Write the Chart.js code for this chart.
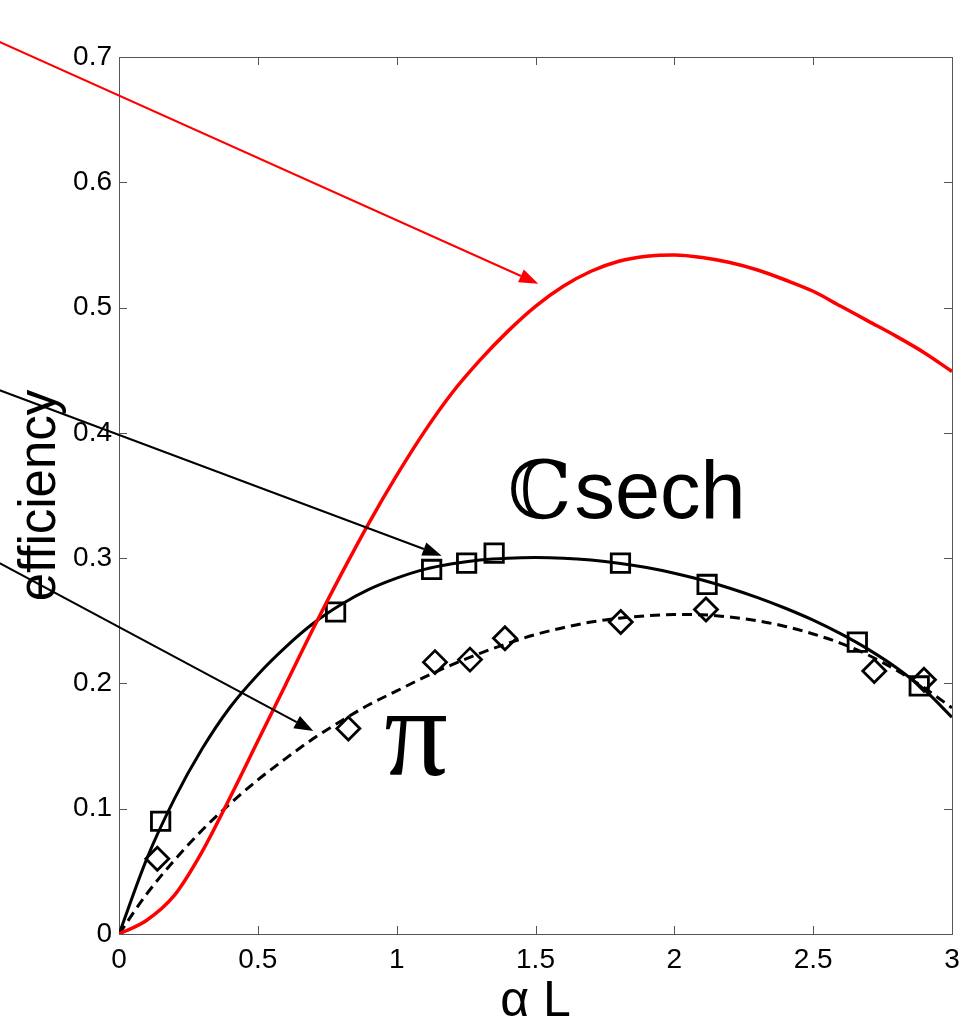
<!DOCTYPE html>
<html>
<head>
<meta charset="utf-8">
<script src="https://cdn.jsdelivr.net/npm/chart.js@4.4.1/dist/chart.umd.min.js"></script>
<style>
  html, body { margin: 0; padding: 0; background: #fff; overflow: hidden; }
  #wrap { width: 963px; height: 1020px; position: relative; }
</style>
</head>
<body>
<div id="wrap"><canvas id="chart"></canvas></div>
<script>
// ===== DATA =====
const xGrid   = [0, 0.1, 0.2, 0.3, 0.4, 0.5, 0.6, 0.7, 0.8, 0.9, 1.0, 1.1, 1.2, 1.3, 1.4, 1.5,
                 1.6, 1.7, 1.8, 1.9, 2.0, 2.1, 2.2, 2.3, 2.4, 2.5, 2.6, 2.7, 2.8, 2.9, 3.0];
const redEff  = [0, 0.011, 0.031, 0.066, 0.109, 0.154, 0.199, 0.244, 0.287, 0.328, 0.366, 0.401, 0.432, 0.458, 0.481, 0.501,
                 0.517, 0.529, 0.537, 0.541, 0.542, 0.540, 0.536, 0.530, 0.522, 0.513, 0.501, 0.489, 0.477, 0.464, 0.449];
const sechEff = [0, 0.060, 0.108, 0.148, 0.181, 0.207, 0.229, 0.248, 0.263, 0.275, 0.284, 0.291, 0.2955, 0.2985, 0.300, 0.3005,
                 0.300, 0.2985, 0.296, 0.2925, 0.288, 0.2825, 0.276, 0.2685, 0.260, 0.2505, 0.2395, 0.227, 0.2125, 0.195, 0.173];
const piEff   = [0, 0.032, 0.059, 0.083, 0.104, 0.123, 0.140, 0.156, 0.170, 0.183, 0.194, 0.205, 0.215, 0.224, 0.232, 0.239,
                 0.2445, 0.249, 0.252, 0.254, 0.255, 0.2548, 0.253, 0.250, 0.2455, 0.2395, 0.232, 0.2225, 0.2105, 0.1965, 0.1805];

// measured points
const sechPtsX = [0.15, 0.78, 1.126, 1.252, 1.351, 1.806, 2.118, 2.659, 2.882];
const sechPtsY = [0.090, 0.257, 0.291, 0.296, 0.304, 0.296, 0.279, 0.233, 0.198];
const piPtsX   = [0.138, 0.826, 1.138, 1.264, 1.39, 1.807, 2.114, 2.72, 2.899];
const piPtsY   = [0.060, 0.164, 0.217, 0.219, 0.236, 0.249, 0.259, 0.210, 0.203];

const xTickLabels = ['0', '0.5', '1', '1.5', '2', '2.5', '3'];
const yTickLabels = ['0', '0.1', '0.2', '0.3', '0.4', '0.5', '0.6', '0.7'];

// annotations (data units)
const arrows = [
  { from: [-0.43, 0.712], to: [1.510, 0.519], color: '#ff0000' },
  { from: [-0.43, 0.434], to: [1.162, 0.302], color: '#000' },
  { from: [-0.43, 0.296], to: [0.700, 0.162], color: '#000' }
];

const pairs = (xs, ys) => xs.map((x, i) => ({ x, y: ys[i] }));

// ===== PLUGINS =====
const framePlugin = {
  id: 'frame',
  beforeDatasetsDraw(chart) {
    const { ctx, chartArea: a, scales: { x, y } } = chart;
    ctx.save();
    ctx.strokeStyle = '#555';
    ctx.lineWidth = 1;
    ctx.strokeRect(Math.round(a.left) + 0.5, Math.round(a.top) + 0.5,
                   Math.round(a.right - a.left), Math.round(a.bottom - a.top));
    const tl = 8;
    ctx.beginPath();
    x.ticks.forEach(t => {
      const px = Math.round(x.getPixelForValue(t.value)) + 0.5;
      ctx.moveTo(px, a.bottom); ctx.lineTo(px, a.bottom - tl);
      ctx.moveTo(px, a.top); ctx.lineTo(px, a.top + tl);
    });
    y.ticks.forEach(t => {
      const py = Math.round(y.getPixelForValue(t.value)) + 0.5;
      ctx.moveTo(a.left, py); ctx.lineTo(a.left + tl, py);
      ctx.moveTo(a.right, py); ctx.lineTo(a.right - tl, py);
    });
    ctx.stroke();
    // x tick labels
    ctx.fillStyle = '#000';
    ctx.font = '28px "Liberation Sans"';
    ctx.textAlign = 'center';
    ctx.textBaseline = 'alphabetic';
    x.ticks.forEach(t => {
      ctx.fillText(xTickLabels[Math.round(t.value * 2)], x.getPixelForValue(t.value), a.bottom + 33.5);
    });
    ctx.restore();
  },
  afterDatasetsDraw(chart) {
    const { ctx, scales: { x, y } } = chart;
    ctx.save();
    // arrows
    arrows.forEach(a => {
      const x0 = x.getPixelForValue(a.from[0]), y0 = y.getPixelForValue(a.from[1]);
      const x1 = x.getPixelForValue(a.to[0]),   y1 = y.getPixelForValue(a.to[1]);
      const ang = Math.atan2(y1 - y0, x1 - x0);
      const hl = 19, hw = 7;
      const bx = x1 - hl * Math.cos(ang), by = y1 - hl * Math.sin(ang);
      ctx.strokeStyle = a.color;
      ctx.fillStyle = a.color;
      ctx.lineWidth = 2;
      ctx.beginPath();
      ctx.moveTo(x0, y0); ctx.lineTo(bx, by);
      ctx.stroke();
      ctx.beginPath();
      ctx.moveTo(x1, y1);
      ctx.lineTo(bx + hw * Math.sin(ang), by - hw * Math.cos(ang));
      ctx.lineTo(bx - hw * Math.sin(ang), by + hw * Math.cos(ang));
      ctx.closePath();
      ctx.fill();
    });
    // labels
    ctx.fillStyle = '#000';
    ctx.textBaseline = 'alphabetic';
    ctx.textAlign = 'left';
    const lx = x.getPixelForValue(1.400), ly = y.getPixelForValue(0.332);
    ctx.font = '80px "DejaVu Serif"';
    ctx.fillText('\u2102', lx, ly);
    const w = ctx.measureText('\u2102').width;
    ctx.font = '81px "Liberation Sans"';
    ctx.fillText('sech', lx + w + 3, ly);
    ctx.font = '126px "Liberation Serif"';
    ctx.fillText('\u03c0', x.getPixelForValue(0.955), y.getPixelForValue(0.127));
    ctx.restore();
  }
};

// ===== CHART =====
const ctx = document.getElementById('chart').getContext('2d');
new Chart(ctx, {
  type: 'scatter',
  data: {
    datasets: [
      {
        label: 'red', data: pairs(xGrid, redEff), showLine: true,
        borderColor: '#ff0000', borderWidth: 3.5, pointRadius: 0, cubicInterpolationMode: 'monotone'
      },
      {
        label: 'sech', data: pairs(xGrid, sechEff), showLine: true,
        borderColor: '#000', borderWidth: 3, pointRadius: 0, cubicInterpolationMode: 'monotone'
      },
      {
        label: 'pi', data: pairs(xGrid, piEff), showLine: true,
        borderColor: '#000', borderWidth: 3, borderDash: [10, 6], pointRadius: 0, cubicInterpolationMode: 'monotone'
      },
      {
        label: 'sech pts', data: pairs(sechPtsX, sechPtsY), showLine: false,
        pointStyle: 'rect', pointRadius: 13, borderColor: '#000', borderWidth: 2.8,
        backgroundColor: 'rgba(0,0,0,0)'
      },
      {
        label: 'pi pts', data: pairs(piPtsX, piPtsY), showLine: false,
        pointStyle: 'rectRot', pointRadius: 11.5, borderColor: '#000', borderWidth: 2.8,
        backgroundColor: 'rgba(0,0,0,0)'
      }
    ]
  },
  options: {
    responsive: true,
    maintainAspectRatio: false,
    animation: false,
    layout: { autoPadding: false, padding: { top: 57, right: 11, left: 0, bottom: 0 } },
    plugins: { legend: { display: false }, tooltip: { enabled: false } },
    scales: {
      x: {
        type: 'linear', min: 0, max: 3,
        grid: { display: false, drawTicks: false },
        border: { display: false },
        ticks: { stepSize: 0.5, display: false },
        title: {
          display: true, text: '\u03b1 L', color: '#000',
          font: { family: 'Liberation Sans', size: 50, lineHeight: 0.7 }, padding: { top: 0, bottom: 0 }
        },
        afterFit: (s) => { s.height = 86; }
      },
      y: {
        type: 'linear', min: 0, max: 0.7,
        grid: { display: false, drawTicks: false },
        border: { display: false },
        ticks: {
          stepSize: 0.1, padding: 7, color: '#000',
          font: { family: 'Liberation Sans', size: 28 },
          callback: (v) => yTickLabels[Math.round(v * 10)]
        },
        title: {
          display: true, text: 'efficiency', color: '#000',
          font: { family: 'Liberation Sans', size: 51 }, padding: { top: 10, bottom: 0 }
        },
        afterFit: (s) => { s.width = 119; }
      }
    }
  },
  plugins: [framePlugin]
});
</script>
</body>
</html>
